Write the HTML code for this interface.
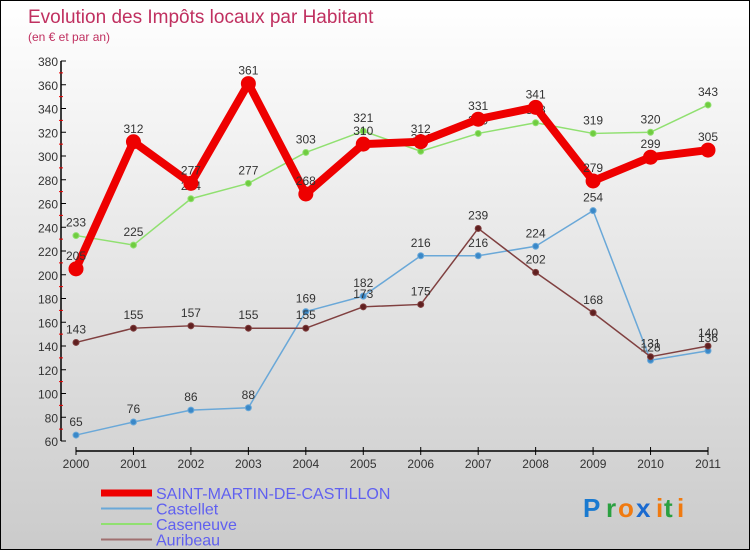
<!DOCTYPE html>
<html><head><meta charset="utf-8"><style>
body{margin:0;width:750px;height:550px;overflow:hidden}
#c{position:absolute;left:0;top:0;width:748px;height:548px;border:1px solid #000;background:linear-gradient(#ffffff,#cbcbcb)}
text{font-family:"Liberation Sans",sans-serif}
</style></head><body>
<div id="c">
<svg id="s" width="750" height="550"></svg>
</div>
<script>
const years=["2000","2001","2002","2003","2004","2005","2006","2007","2008","2009","2010","2011"];
const smc=[205,312,277,361,268,310,312,331,341,279,299,305];
const castellet=[65,76,86,88,169,182,216,216,224,254,128,136];
const caseneuve=[233,225,264,277,303,321,304,319,328,319,320,343];
const auribeau=[143,155,157,155,155,173,175,239,202,168,131,140];
const yTicks=[60,80,100,120,140,160,180,200,220,240,260,280,300,320,340,360,380];
const NS="http://www.w3.org/2000/svg",s=document.getElementById('s');
const X=i=>75+i*(707-75)/11, Y=v=>440-(v-60)*(380/320);
function el(t,a,txt,p){const e=document.createElementNS(NS,t);for(const k in a)e.setAttribute(k,a[k]);if(txt!=null)e.textContent=txt;(p||s).appendChild(e);return e;}
let e;
e=el('text',{x:27,y:22,'font-size':19,fill:'#c03060'},'Evolution des Impôts locaux par Habitant');

e=el('text',{x:27,y:40,'font-size':12,fill:'#c03060'},'(en € et par an)');

e=el('line',{x1:60,y1:60,x2:60,y2:440,stroke:'#000','stroke-width':1.5});

yTicks.forEach((v,i)=>{
 el('line',{x1:60,y1:Y(v),x2:65,y2:Y(v),stroke:'#000'});
 if(i<yTicks.length-1)el('line',{x1:58,y1:Y(v+10),x2:62,y2:Y(v+10),stroke:'#e00'});
 e=el('text',{x:57,y:Y(v)+5,'font-size':12,fill:'#333','text-anchor':'end'},v);
 
});
e=el('line',{x1:75,y1:450,x2:707,y2:450,stroke:'#000','stroke-width':1.5});

years.forEach((y,i)=>{
 el('line',{x1:X(i),y1:446,x2:X(i),y2:454,stroke:'#000'});
 e=el('text',{x:X(i),y:467,'font-size':12,fill:'#333','text-anchor':'middle'},y);
 
});
function series(d,col,w,r,name,dot){
 const g=el('g',{});
 el('polyline',{points:d.map((v,i)=>X(i)+','+Y(v)).join(' '),fill:'none',stroke:col,'stroke-width':w,'stroke-linejoin':'round'},null,g);
 d.forEach((v,i)=>{
  const c=el('circle',{cx:X(i),cy:Y(v),r:r,fill:dot,stroke:col,'stroke-width':1},null,g);
  
  const t=el('text',{x:X(i),y:Y(v)-9,'font-size':12,fill:'#333','text-anchor':'middle'},v,g);
  
 });
}
series(castellet,'#6aa8d8',1.5,3,'castellet','#3a88c8');
series(caseneuve,'#90e070',1.5,3,'caseneuve','#70cc40');
series(auribeau,'#804040',1.5,3,'auribeau','#602020');
series(smc,'#ee0000',8,7,'saint-martin','#ee0000');
const leg=[['SAINT-MARTIN-DE-CASTILLON','#ee0000',7],['Castellet','#6aa8d8',2],['Caseneuve','#90e070',2],['Auribeau','#a07070',2]];
leg.forEach((l,i)=>{
 const y=492+i*15.5;
 const g=el('g',{});
 el('line',{x1:100,y1:y,x2:151,y2:y,stroke:l[1],'stroke-width':l[2]},null,g);
 el('text',{x:155,y:y+6,'font-size':16,fill:'#6060f0'},l[0],g);
});
const lg=el('g',{});
[['P','#1a7ad0',582],['r','#2aa040',605],['o','#f07a10',617],['x','#1a6ad0',635],['i','#f07a10',655],['t','#2aa040',663],['i','#f07a10',676]].forEach(c=>{
 el('text',{x:c[2],y:516,'font-size':26,'font-weight':'bold',fill:c[1]},c[0],lg);
});
</script>
</body></html>
